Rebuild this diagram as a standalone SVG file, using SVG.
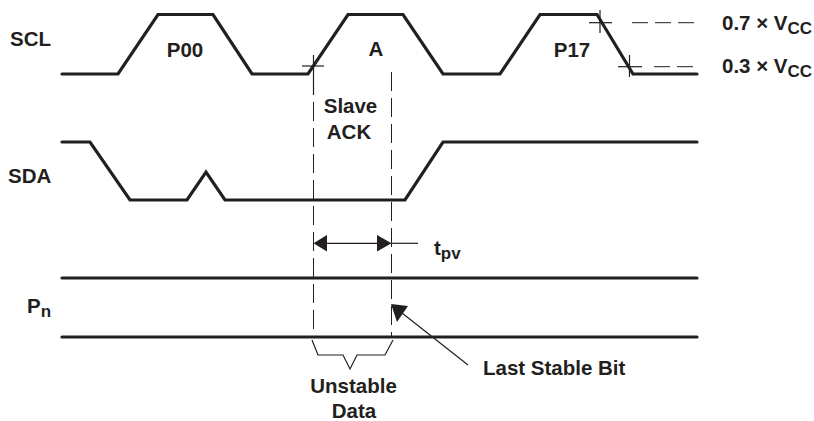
<svg xmlns="http://www.w3.org/2000/svg" width="814" height="421" viewBox="0 0 814 421">
<style>
.t{font-family:"Liberation Sans",Arial,sans-serif;font-weight:bold;font-size:20.5px;fill:#231f20}
.s{font-size:17px}
.w{fill:none;stroke:#231f20;stroke-width:3.2;stroke-linejoin:miter;stroke-linecap:round}
.d{fill:none;stroke:#231f20;stroke-width:1;stroke-dasharray:19 7}
.h{fill:none;stroke:#231f20;stroke-width:1;stroke-dasharray:16 7}
.th{fill:none;stroke:#231f20;stroke-width:1.2}
.ah{fill:#231f20;stroke:none}
</style>
<rect width="814" height="421" fill="#fff"/>
<g id="SCL">
<text class="t" x="10" y="45.5">SCL</text>
<polyline class="w" points="62,74 118,74 158,14.5 213,14.5 252,74 308,74 348,14.5 403,14.5 443,74 500,74 540,14.5 597,14.5 633,74 697,74"/>
<text class="t" x="185" y="57" text-anchor="middle">P00</text>
<text class="t" x="376" y="56" text-anchor="middle">A</text>
<text class="t" x="572" y="57" text-anchor="middle">P17</text>
</g>
<g id="SDA">
<text class="t" x="8" y="183">SDA</text>
<polyline class="w" points="62,142 90,142 130,200 187,200 206,172 225,200 405,200 443,142 697,142"/>
</g>
<g id="Pn">
<text class="t" x="27" y="313">P<tspan class="s" dy="4">n</tspan></text>
<line class="w" x1="62" y1="278" x2="697" y2="278"/>
<line class="w" x1="62" y1="337" x2="697" y2="337"/>
</g>
<g id="levels">
<line class="th" x1="589" y1="22.7" x2="612" y2="22.7"/>
<line class="th" x1="600" y1="10" x2="600" y2="33"/>
<line class="h" x1="632" y1="22.7" x2="695" y2="22.7"/>
<line class="th" x1="618" y1="66.7" x2="642" y2="66.7"/>
<line class="th" x1="629.5" y1="55" x2="629.5" y2="77"/>
<line class="h" x1="654" y1="66.7" x2="695" y2="66.7"/>
<text class="t" x="722" y="30">0.7 × V<tspan class="s" dy="4">CC</tspan></text>
<text class="t" x="722" y="73">0.3 × V<tspan class="s" dy="4">CC</tspan></text>
</g>
<g id="connectors">
<line class="th" x1="302" y1="66" x2="324" y2="66"/>
<line class="th" x1="313.5" y1="55" x2="313.5" y2="95"/>
<line class="d" x1="313.5" y1="102" x2="313.5" y2="336"/>
<line class="d" x1="391.5" y1="72" x2="391.5" y2="337"/>
<line class="th" x1="325" y1="243.3" x2="380" y2="243.3"/>
<line class="th" x1="391" y1="243.3" x2="418" y2="243.3"/>
<polygon class="ah" points="313.5,243.3 327,235 327,251.6"/>
<polygon class="ah" points="391.5,243.3 377,235 377,251.6"/>
<polyline class="th" points="312,340 318,355 343,355 350,369 357,355 385,355 393,340"/>
<line class="th" x1="402" y1="313" x2="468" y2="365"/>
<polygon class="ah" points="391,304 408,306 397,322"/>
</g>
<g id="labels">
<text class="t" x="350.5" y="113" text-anchor="middle">Slave</text>
<text class="t" x="349" y="139" text-anchor="middle">ACK</text>
<text class="t" x="434" y="255">t<tspan class="s" dy="4">pv</tspan></text>
<text class="t" x="353.5" y="393" text-anchor="middle">Unstable</text>
<text class="t" x="354" y="418" text-anchor="middle">Data</text>
<text class="t" x="483" y="375">Last Stable Bit</text>
</g>
</svg>
